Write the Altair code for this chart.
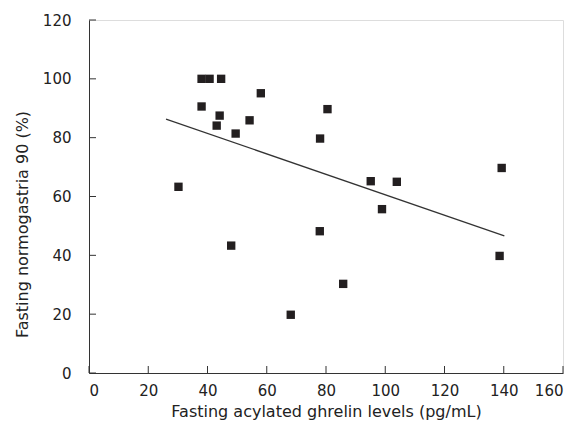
import altair as alt
import pandas as pd

ghrelin = [38.0, 40.7, 44.6, 58.0, 38.0, 44.1, 43.1, 54.2, 49.5, 80.5, 78.0, 30.2,
           139.3, 95.1, 103.9, 98.9, 77.9, 48.0, 138.6, 85.8, 68.1]
normogastria = [100, 100, 100, 95.1, 90.6, 87.5, 84.1, 85.9, 81.4, 89.7, 79.7, 63.3,
                69.7, 65.2, 65.0, 55.7, 48.2, 43.3, 39.8, 30.3, 19.8]
fit_x = [26.0, 140.2]
fit_y = [86.3, 46.6]
x_ticks = [0, 20, 40, 60, 80, 100, 120, 140, 160]
y_ticks = [0, 20, 40, 60, 80, 100, 120]

W, H = 474, 353
FONT = "DejaVu Sans"
AX = "#333333"

pts = pd.DataFrame({"x": ghrelin, "y": normogastria})
fit = pd.DataFrame({"x": fit_x, "y": fit_y})
xt = pd.DataFrame({"v": x_ticks})
yt = pd.DataFrame({"v": y_ticks})

xs = alt.Scale(domain=[0, 160], nice=False, zero=False)
ys = alt.Scale(domain=[0, 120], nice=False, zero=False)

xaxis = alt.Axis(values=x_ticks, grid=False, ticks=False, labelPadding=10,
                 domainColor=AX, labelColor="#222222", titleColor="#222222",
                 labelFontSize=15, titleFontSize=16, labelFont=FONT, titleFont=FONT,
                 titleFontWeight="normal", titlePadding=5)
yaxis = alt.Axis(values=y_ticks, grid=False, ticks=False, labelPadding=18,
                 domainColor=AX, labelColor="#222222", titleColor="#222222",
                 labelFontSize=15, titleFontSize=16, labelFont=FONT, titleFont=FONT,
                 titleFontWeight="normal", titlePadding=12, titleY=196 + 8)

points = alt.Chart(pts).mark_square(size=70, color="#231f20", opacity=1).encode(
    x=alt.X("x:Q", scale=xs, axis=xaxis, title="Fasting acylated ghrelin levels (pg/mL)"),
    y=alt.Y("y:Q", scale=ys, axis=yaxis, title="Fasting normogastria 90 (%)"),
)

line = alt.Chart(fit).mark_line(color="#333333", strokeWidth=1.2).encode(
    x=alt.X("x:Q", scale=xs), y=alt.Y("y:Q", scale=ys)
)

xtick = alt.Chart(xt).mark_rule(color=AX, strokeWidth=1).encode(
    x=alt.X("v:Q", scale=xs), y=alt.value(H), y2=alt.value(H - 7)
)
ytick = alt.Chart(yt).mark_rule(color=AX, strokeWidth=1).encode(
    y=alt.Y("v:Q", scale=ys), x=alt.value(0), x2=alt.value(7)
)

chart = alt.layer(xtick, ytick, line, points).properties(
    width=W, height=H, padding={"left": 6, "top": 5, "right": 5, "bottom": 5}
).configure_view(stroke=None).configure(background="white")

chart.save("out.html", embed_options={"renderer": "svg", "actions": False})
